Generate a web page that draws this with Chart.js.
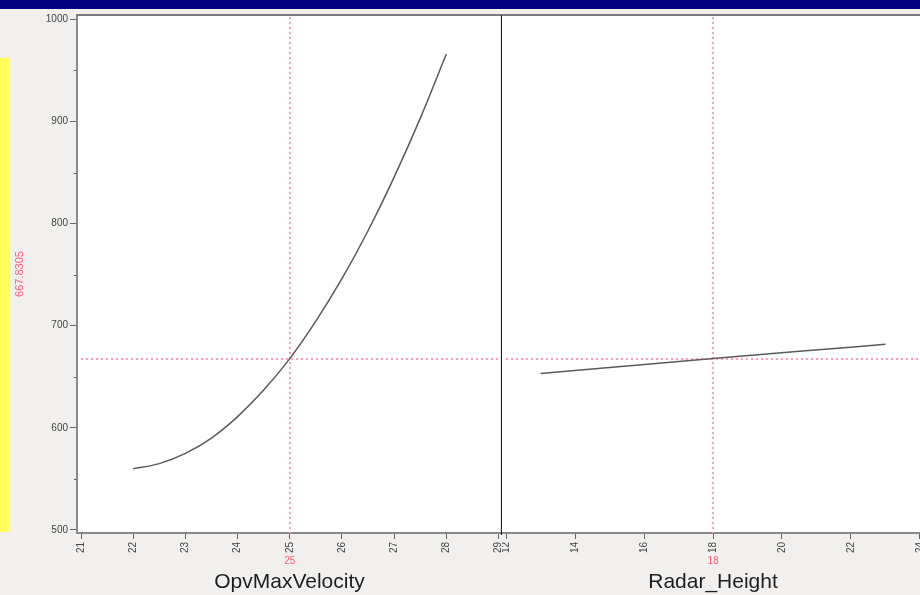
<!DOCTYPE html>
<html><head><meta charset="utf-8">
<script src="https://cdn.jsdelivr.net/npm/chart.js@4.4.1/dist/chart.umd.min.js"></script>
<style>
html,body{margin:0;padding:0;width:920px;height:595px;overflow:hidden;background:#f1f0ee;font-family:"Liberation Sans",Arial,sans-serif;}
#navy{position:absolute;left:0;top:0;width:920px;height:9px;background:#000080;}
#yellow{position:absolute;left:0;top:58px;width:10px;height:474px;background:#ffff5c;}
#wl{position:absolute;left:0;top:0;width:502px;height:595px;}
#wr{position:absolute;left:502px;top:0;width:422px;height:595px;}
</style></head><body>
<div id="wl"><canvas id="cl"></canvas></div>
<div id="wr"><canvas id="cr"></canvas></div>
<div id="navy"></div><div id="yellow"></div>
<script>
// ---- data ----
const opvX = [22, 22.5, 23, 23.5, 24, 24.5, 25, 25.5, 26, 26.5, 27, 27.5, 28];
const opvY = [560, 565, 575, 590, 611, 637, 667.8, 704.5, 746, 793, 845.5, 903, 966];
const radarX = [13, 15.5, 18, 20.5, 23];
const radarY = [653.3, 660.6, 667.83, 674.9, 681.8];
const predictedValue = 667.8305;
const currentOpv = 25;
const currentRadar = 18;
const leftXTicks = [21, 22, 23, 24, 25, 26, 27, 28, 29];
const rightXTicks = [12, 14, 16, 18, 20, 22, 24];
const yTicks = [500, 600, 700, 800, 900, 1000];
const yMinorTicks = [550, 650, 750, 850, 950];
const yRange = [497.06, 1004.2];
const leftXRange = [20.923, 29.067];
const rightXRange = [11.884, 24.116];
const xTitles = ['OpvMaxVelocity', 'Radar_Height'];

const FONT = '"Liberation Sans", Arial, sans-serif';
const RED = '#ff5c7c';
const DOT = '#ff9db2';

const profiler = {
  id: 'profiler',
  beforeDraw(chart) {
    const {ctx, chartArea: a} = chart;
    ctx.save();
    ctx.fillStyle = '#ffffff';
    ctx.fillRect(a.left, a.top, a.right - a.left, a.bottom - a.top);
    ctx.restore();
  },
  beforeDatasetsDraw(chart, args, opts) {
    const {ctx, chartArea: a, scales: {x, y}} = chart;
    ctx.save();
    ctx.strokeStyle = DOT; ctx.lineWidth = 2; ctx.setLineDash([2, 3]);
    const px = Math.round(x.getPixelForValue(opts.current));
    const py = Math.round(y.getPixelForValue(predictedValue));
    ctx.beginPath(); ctx.moveTo(px, a.top + 2); ctx.lineTo(px, a.bottom); ctx.stroke();
    ctx.beginPath(); ctx.moveTo(a.left + 4, py); ctx.lineTo(a.right, py); ctx.stroke();
    ctx.restore();
  },
  afterDraw(chart, args, opts) {
    const {ctx, chartArea: a, scales: {x, y}} = chart;
    ctx.save();
    // top frame
    ctx.strokeStyle = '#7c7c7c'; ctx.lineWidth = 2;
    ctx.beginPath(); ctx.moveTo(a.left, a.top); ctx.lineTo(a.right, a.top); ctx.stroke();
    if (opts.left) {
      // right separator
      ctx.strokeStyle = '#222'; ctx.lineWidth = 1.2;
      ctx.beginPath(); ctx.moveTo(a.right - 0.5, a.top); ctx.lineTo(a.right - 0.5, a.bottom + 2); ctx.stroke();
      // minor ticks
      ctx.strokeStyle = '#666'; ctx.lineWidth = 1;
      yMinorTicks.forEach(v => {
        const p = Math.round(y.getPixelForValue(v)) + 0.5;
        ctx.beginPath(); ctx.moveTo(a.left - 3, p); ctx.lineTo(a.left, p); ctx.stroke();
      });
      // rotated current value
      ctx.fillStyle = RED; ctx.font = '11px ' + FONT;
      ctx.translate(20, (a.top + a.bottom) / 2);
      ctx.rotate(-Math.PI / 2);
      ctx.textAlign = 'center'; ctx.textBaseline = 'middle';
      ctx.fillText(String(predictedValue), 0, 0);
      ctx.setTransform(1, 0, 0, 1, 0, 0);
      ctx.scale(chart.currentDevicePixelRatio, chart.currentDevicePixelRatio);
    }
    ctx.fillStyle = RED; ctx.font = '10px ' + FONT;
    ctx.textAlign = 'center'; ctx.textBaseline = 'middle';
    ctx.fillText(String(opts.current), x.getPixelForValue(opts.current), a.bottom + 28);
    ctx.restore();
  }
};

function xScale(range, ticks, title) {
  return {
    type: 'linear', min: range[0], max: range[1],
    afterBuildTicks: s => { s.ticks = ticks.map(v => ({value: v})); },
    afterFit: s => { s.height = 62; s.paddingLeft = 0; s.paddingRight = 0; },
    ticks: {autoSkip: false, minRotation: 90, maxRotation: 90, padding: 3,
      color: '#444', font: {size: 10, family: FONT}, callback: v => String(v)},
    grid: {drawOnChartArea: false, tickLength: 6, tickColor: '#666', tickWidth: 1},
    border: {color: '#8a8a8a', width: 2},
    title: {display: true, text: title, color: '#1e1e1e', padding: {top: 0, bottom: 0},
      font: {size: 21, family: FONT}}
  };
}

function yScale(show) {
  return {
    type: 'linear', min: yRange[0], max: yRange[1], display: show,
    afterBuildTicks: s => { s.ticks = yTicks.map(v => ({value: v})); },
    afterFit: s => { s.width = show ? 77 : 0; s.paddingTop = 0; s.paddingBottom = 0; },
    ticks: {autoSkip: false, padding: 2, color: '#444', font: {size: 10, family: FONT},
      callback: v => String(v)},
    grid: {drawOnChartArea: false, tickLength: 7, tickColor: '#666', tickWidth: 1},
    border: {color: '#8a8a8a', width: 2}
  };
}

function makeChart(id, xs, ys, xr, xt, title, current, isLeft) {
  return new Chart(document.getElementById(id), {
    type: 'line',
    data: {datasets: [{
      data: xs.map((v, i) => ({x: v, y: ys[i]})),
      borderColor: '#5a5a5a', borderWidth: 1.5, pointRadius: 0,
      cubicInterpolationMode: 'monotone', fill: false
    }]},
    options: {
      responsive: true, maintainAspectRatio: false, animation: false,
      layout: {padding: {top: 15, left: 0, right: 0, bottom: 0}},
      plugins: {legend: {display: false}, tooltip: {enabled: false},
        profiler: {current: current, left: isLeft}},
      scales: {x: xScale(xr, xt, title), y: yScale(isLeft)}
    },
    plugins: [profiler]
  });
}

makeChart('cl', opvX, opvY, leftXRange, leftXTicks, xTitles[0], currentOpv, true);
makeChart('cr', radarX, radarY, rightXRange, rightXTicks, xTitles[1], currentRadar, false);
</script>
</body></html>
